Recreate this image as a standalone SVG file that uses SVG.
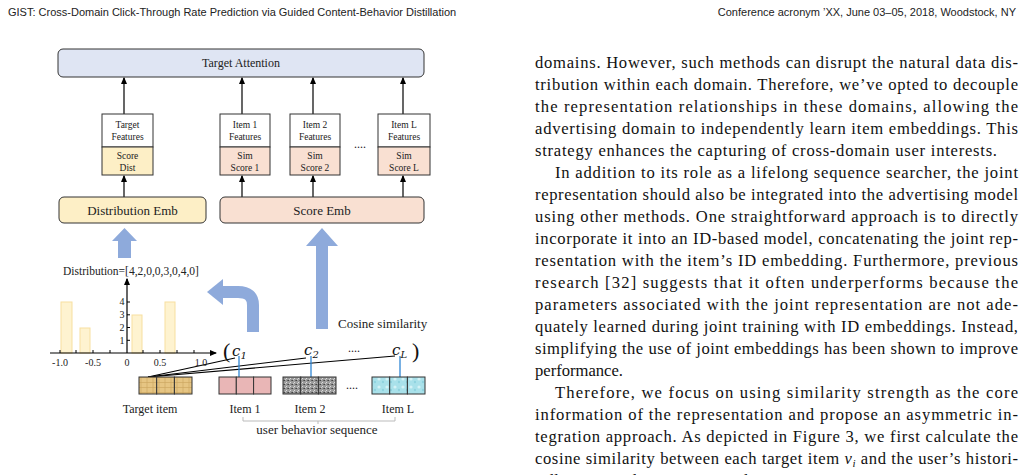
<svg xmlns="http://www.w3.org/2000/svg" width="1024" height="475" viewBox="0 0 1024 475">
<style>
.hd{font-family:"Liberation Sans",Arial,sans-serif;font-size:11px;fill:#222}
.bt{font-family:"Liberation Serif","DejaVu Serif",serif;font-size:16.6px;fill:#111}
.f{font-family:"Liberation Serif",serif;fill:#222;text-anchor:middle}
.st{text-anchor:start}
.s9{font-size:9.5px}.s12{font-size:12px}.s13{font-size:13px}
.box{stroke:#333;stroke-width:1}
.ln{stroke:#000;stroke-width:1.2;fill:none}
.blue{fill:#8eaadb}
.bar{fill:#fef3d0;stroke:#f7dfa0;stroke-width:1}
.cell{stroke:#333;stroke-width:1}
.m{font-family:"DejaVu Serif","Liberation Serif",serif;font-style:italic;font-size:15px;fill:#111}
</style>
<defs>
<marker id="ah" viewBox="0 0 6 6" refX="5" refY="3" markerWidth="6" markerHeight="6" orient="auto"><path d="M0,0.5 L6,3 L0,5.5z" fill="#000"/></marker>
<pattern id="pw" width="6" height="5" patternUnits="userSpaceOnUse"><rect width="6" height="5" fill="#e6c583"/><path d="M0,2.5H6M3,0V5" stroke="#c9a35c" stroke-width="0.6"/></pattern>
<pattern id="pg" width="4" height="4" patternUnits="userSpaceOnUse"><rect width="4" height="4" fill="#9a9a9a"/><rect width="1" height="1" fill="#444"/><rect x="2" y="2" width="1" height="1" fill="#ddd"/><rect x="3" y="0" width="1" height="1" fill="#666"/><rect x="1" y="3" width="1" height="1" fill="#ccc"/></pattern>
<pattern id="pc" width="8" height="8" patternUnits="userSpaceOnUse"><rect width="8" height="8" fill="#a9e1ea"/><circle cx="3" cy="3" r="1.6" fill="#d4f2f6"/><circle cx="7" cy="6" r="1.2" fill="#8fd3df"/></pattern>
</defs>
<rect width="1024" height="475" fill="#fff"/>
<text class="hd" x="8" y="16">GIST: Cross-Domain Click-Through Rate Prediction via Guided Content-Behavior Distillation</text>
<text class="hd" x="1016" y="16" text-anchor="end">Conference acronym ’XX, June 03–05, 2018, Woodstock, NY</text>

<g id="body">
<text class="bt" x="535" y="68" textLength="483" lengthAdjust="spacing">domains. However, such methods can disrupt the natural data dis-</text>
<text class="bt" x="535" y="90" textLength="483" lengthAdjust="spacing">tribution within each domain. Therefore, we’ve opted to decouple</text>
<text class="bt" x="535" y="112" textLength="483" lengthAdjust="spacing">the representation relationships in these domains, allowing the</text>
<text class="bt" x="535" y="134" textLength="483" lengthAdjust="spacing">advertising domain to independently learn item embeddings. This</text>
<text class="bt" x="535" y="156" textLength="462" lengthAdjust="spacing">strategy enhances the capturing of cross-domain user interests.</text>
<text class="bt" x="555" y="178" textLength="463" lengthAdjust="spacing">In addition to its role as a lifelong sequence searcher, the joint</text>
<text class="bt" x="535" y="200" textLength="483" lengthAdjust="spacing">representation should also be integrated into the advertising model</text>
<text class="bt" x="535" y="222" textLength="483" lengthAdjust="spacing">using other methods. One straightforward approach is to directly</text>
<text class="bt" x="535" y="244" textLength="483" lengthAdjust="spacing">incorporate it into an ID-based model, concatenating the joint rep-</text>
<text class="bt" x="535" y="266" textLength="483" lengthAdjust="spacing">resentation with the item’s ID embedding. Furthermore, previous</text>
<text class="bt" x="535" y="288" textLength="483" lengthAdjust="spacing">research [32] suggests that it often underperforms because the</text>
<text class="bt" x="535" y="310" textLength="483" lengthAdjust="spacing">parameters associated with the joint representation are not ade-</text>
<text class="bt" x="535" y="332" textLength="483" lengthAdjust="spacing">quately learned during joint training with ID embeddings. Instead,</text>
<text class="bt" x="535" y="354" textLength="483" lengthAdjust="spacing">simplifying the use of joint embeddings has been shown to improve</text>
<text class="bt" x="535" y="376">performance.</text>
<text class="bt" x="555" y="398" textLength="463" lengthAdjust="spacing">Therefore, we focus on using similarity strength as the core</text>
<text class="bt" x="535" y="420" textLength="483" lengthAdjust="spacing">information of the representation and propose an asymmetric in-</text>
<text class="bt" x="535" y="442" textLength="483" lengthAdjust="spacing">tegration approach. As depicted in Figure 3, we first calculate the</text>
<text class="bt" x="535" y="464" textLength="483" lengthAdjust="spacing">cosine similarity between each target item <tspan font-style="italic">v<tspan font-size="11" dy="3">i</tspan></tspan><tspan dy="-3"> and the user’s histori-</tspan></text>
<text class="bt" x="535" y="486">cally interacted items in target domain</text>
</g>

<g id="connectors">
<line class="ln" x1="124" y1="114" x2="124" y2="78" marker-end="url(#ah)"/>
<line class="ln" x1="242" y1="114" x2="242" y2="78" marker-end="url(#ah)"/>
<line class="ln" x1="313" y1="114" x2="313" y2="78" marker-end="url(#ah)"/>
<line class="ln" x1="403" y1="114" x2="403" y2="78" marker-end="url(#ah)"/>
<line class="ln" x1="124" y1="197" x2="124" y2="176" marker-end="url(#ah)"/>
<line class="ln" x1="242" y1="197" x2="242" y2="176" marker-end="url(#ah)"/>
<line class="ln" x1="313" y1="197" x2="313" y2="176" marker-end="url(#ah)"/>
<line class="ln" x1="403" y1="197" x2="403" y2="176" marker-end="url(#ah)"/>
<path class="blue" d="M118,258 V241 H112 L124.5,228 L137,241 H131 V258z"/>
<path class="blue" d="M316,329 V246 H306 L322,228 L338,246 H328 V329z"/>
<path d="M253,332 V305 Q253,292 238,292 H222" fill="none" stroke="#8eaadb" stroke-width="12"/>
<path class="blue" d="M223,279 L207,292 L223,305z"/>
<g stroke="#000" stroke-width="1.2">
<line x1="148" y1="377" x2="235" y2="358"/>
<line x1="148" y1="377" x2="306" y2="358"/>
<line x1="148" y1="377" x2="395" y2="356"/>
</g>
<g stroke="#2f86d4" stroke-width="1.3">
<line x1="239" y1="356" x2="239" y2="377"/>
<line x1="311" y1="356" x2="311" y2="377"/>
<line x1="400" y1="356" x2="400" y2="377"/>
</g>
</g>

<g id="n-attn"><rect class="box" x="58" y="49" width="366" height="28" rx="5" fill="#dfe5f3"/><text class="f s12" x="241" y="67">Target Attention</text></g>

<g id="n-target">
<rect class="box" x="102" y="114" width="51" height="33" fill="#fff"/>
<rect class="box" x="102" y="147" width="51" height="28" fill="#fdefc6"/>
<text class="f s9" x="127.5" y="128">Target</text><text class="f s9" x="127.5" y="140">Features</text>
<text class="f s9" x="127.5" y="159">Score</text><text class="f s9" x="127.5" y="171">Dist</text>
</g>
<g id="n-item1">
<rect class="box" x="220" y="114" width="50" height="33" fill="#fff"/>
<rect class="box" x="220" y="147" width="50" height="28" fill="#f9e0d2"/>
<text class="f s9" x="245" y="128">Item 1</text><text class="f s9" x="245" y="140">Features</text>
<text class="f s9" x="245" y="159">Sim</text><text class="f s9" x="245" y="171">Score 1</text>
</g>
<g id="n-item2">
<rect class="box" x="290" y="114" width="50" height="33" fill="#fff"/>
<rect class="box" x="290" y="147" width="50" height="28" fill="#f9e0d2"/>
<text class="f s9" x="315" y="128">Item 2</text><text class="f s9" x="315" y="140">Features</text>
<text class="f s9" x="315" y="159">Sim</text><text class="f s9" x="315" y="171">Score 2</text>
</g>
<text class="f s12" x="360" y="148">....</text>
<g id="n-itemL">
<rect class="box" x="378" y="114" width="52" height="33" fill="#fff"/>
<rect class="box" x="378" y="147" width="52" height="28" fill="#f9e0d2"/>
<text class="f s9" x="404" y="128">Item L</text><text class="f s9" x="404" y="140">Features</text>
<text class="f s9" x="404" y="159">Sim</text><text class="f s9" x="404" y="171">Score L</text>
</g>
<g id="n-distemb"><rect class="box" x="59" y="197" width="147" height="26" rx="5" fill="#fdefc6"/><text class="f s13" x="132.5" y="214.5">Distribution Emb</text></g>
<g id="n-scoreemb"><rect class="box" x="220" y="197" width="204" height="26" rx="5" fill="#f9e0d2"/><text class="f s13" x="322" y="214.5">Score Emb</text></g>

<g id="histogram">
<rect class="bar" x="61" y="302" width="11" height="51"/>
<rect class="bar" x="80" y="328" width="10" height="25"/>
<rect class="bar" x="132" y="315" width="10" height="38"/>
<rect class="bar" x="165" y="302" width="10" height="51"/>
<line class="ln" x1="50" y1="353" x2="216" y2="353" marker-end="url(#ah)"/>
<line class="ln" x1="127" y1="353" x2="127" y2="279" marker-end="url(#ah)"/>
<g stroke="#000" stroke-width="1">
<path d="M60,353v-3M76,353v-3M93,353v-3M110,353v-3M143,353v-3M160,353v-3M177,353v-3M194,353v-3M127,340.3h3M127,327.5h3M127,314.8h3M127,302h3"/>
</g>
<g class="f" font-size="10">
<text x="60" y="366">-1.0</text><text x="93" y="366">-0.5</text><text x="127" y="366">0</text><text x="160" y="366">0.5</text><text x="201" y="366">1.0</text>
<text x="122" y="344">1</text><text x="122" y="331">2</text><text x="122" y="318">3</text><text x="122" y="305">4</text>
</g>
<text class="f st" font-size="11.5" x="63" y="275">Distribution=[4,2,0,0,3,0,4,0]</text>
</g>

<text class="f s13 st" font-size="14" x="338" y="328">Cosine similarity</text>
<g id="sims">
<text x="223" y="358" font-family="Liberation Serif,serif" font-size="22" fill="#111">(</text>
<text class="m" x="232" y="356">c<tspan font-size="10" dy="3">1</tspan></text>
<text class="m" x="304" y="355">c<tspan font-size="10" dy="3">2</tspan></text>
<text class="f s12" x="354" y="352">....</text>
<text class="m" x="392" y="355">c<tspan font-size="10" dy="3">L</tspan></text>
<text x="412" y="358" font-family="Liberation Serif,serif" font-size="22" fill="#111">)</text>
</g>

<g id="n-targetitem">
<rect class="cell" x="139" y="377" width="17.7" height="17" fill="url(#pw)"/>
<rect class="cell" x="156.7" y="377" width="17.7" height="17" fill="url(#pw)"/>
<rect class="cell" x="174.4" y="377" width="17.6" height="17" fill="url(#pw)"/>
<text class="f s12" x="150" y="413">Target item</text>
</g>
<g id="n-seq1">
<rect class="cell" x="219" y="377" width="17.3" height="17" fill="#e9b6b6"/>
<rect class="cell" x="236.3" y="377" width="17.3" height="17" fill="#e9b6b6"/>
<rect class="cell" x="253.6" y="377" width="17.4" height="17" fill="#e9b6b6"/>
<text class="f s12" x="245" y="413">Item 1</text>
</g>
<g id="n-seq2">
<rect class="cell" x="283" y="377" width="17.7" height="17" fill="url(#pg)"/>
<rect class="cell" x="300.7" y="377" width="17.7" height="17" fill="url(#pg)"/>
<rect class="cell" x="318.4" y="377" width="17.6" height="17" fill="url(#pg)"/>
<text class="f s12" x="310" y="413">Item 2</text>
</g>
<text class="f s12" x="352" y="389">....</text>
<g id="n-seqL">
<rect class="cell" x="372" y="377" width="17.7" height="17" fill="url(#pc)"/>
<rect class="cell" x="389.7" y="377" width="17.7" height="17" fill="url(#pc)"/>
<rect class="cell" x="407.4" y="377" width="17.6" height="17" fill="url(#pc)"/>
<text class="f s12" x="398" y="413">Item L</text>
</g>
<path d="M243,417 V421 H395 V417 M318,421 V424" fill="none" stroke="#bbb" stroke-width="1"/>
<text class="f s13" x="317" y="434">user behavior sequence</text>
</svg>
